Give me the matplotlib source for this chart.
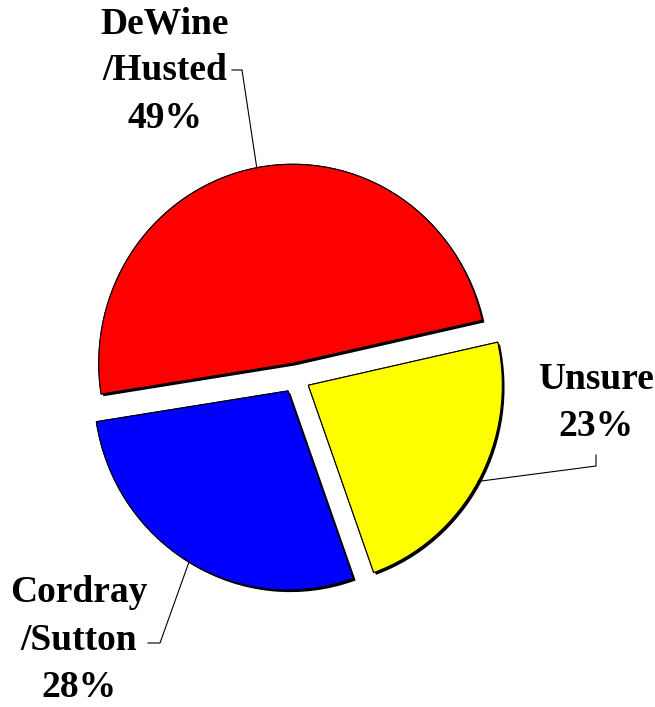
import numpy as np
import matplotlib
matplotlib.use("Agg")
import matplotlib.pyplot as plt
import matplotlib.patheffects as pe

# dati del sondaggio
labels = ["DeWine\n/Husted", "Cordray\n/Sutton", "Unsure"]
values = [49, 28, 23]
colors = ["#ff0000", "#0000ff", "#ffff00"]

W, H = 655, 707
K = 0.975   # la torta originale e' leggermente schiacciata in orizzontale

fig = plt.figure(figsize=(W / 100, H / 100), dpi=100)
ax = fig.add_axes([0, 0, 1, 1])

def px(x, y):
    # pixel immagine -> coordinate dati
    return x / K, H - y

center = px(295.5, 378)
radius = 199
explode = [15, 15, 15]

wedges, _ = ax.pie(values, colors=colors, startangle=12.5, counterclock=True,
                   center=center, radius=radius, explode=explode,
                   wedgeprops=dict(edgecolor="black", linewidth=0.8))
for w in wedges:
    w.set_path_effects([pe.withSimplePatchShadow(offset=(1.6, -1.6), shadow_rgbFace="black", alpha=1.0),
                        pe.Normal()])

# posizione dei testi e gomiti delle linee guida (layout, pixel)
text_pos = [(165, 71), (79, 640), (596, 403)]
elbows = [[(242, 70), (232, 70)], [(160, 643), (148, 643)], [(596, 466), (596, 455)]]

for w, lab, v, tp, el in zip(wedges, labels, values, text_pos, elbows):
    tm = np.deg2rad((w.theta1 + w.theta2) / 2)
    cx, cy = w.center
    p0 = (cx + w.r * np.cos(tm), cy + w.r * np.sin(tm))
    pts = [p0] + [px(*e) for e in el]
    ax.plot([p[0] for p in pts], [p[1] for p in pts], color="black", lw=0.8)
    tx, ty = px(*tp)
    ax.text(tx, ty, f"{lab}\n{v}%", ha="center", va="center",
            fontsize=27, fontweight="bold", family="Liberation Serif", linespacing=1.45)

ax.set_xlim(0, W / K)
ax.set_ylim(0, H)
ax.set_aspect("auto")
ax.axis("off")

fig.savefig("out.png", dpi=100)
